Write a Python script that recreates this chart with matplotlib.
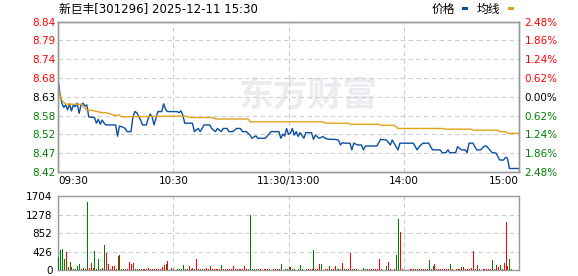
# gráfico intradiário (preço + volume) no estilo do quadro da eastmoney
import matplotlib
matplotlib.use("Agg")
import matplotlib.pyplot as plt
from matplotlib.patches import Rectangle

plt.rcParams['font.family'] = ['DejaVu Sans', 'Noto Sans CJK SC']

titulo = "新巨丰[301296] 2025-12-11 15:30"
fechamento_anterior = 8.63
faixa = 0.0248

# vértices da linha de preço (minuto, preço)
preco_min = [0, 1, 2, 3, 4, 5, 6, 7, 8, 9, 10, 11, 12, 13, 14, 15, 16, 19, 20, 21,
             22, 23, 24, 25, 30, 31, 32, 34, 35, 36, 38, 39, 40, 41, 43, 44, 46, 47, 48, 49,
             50, 51, 52, 54, 55, 56, 57, 62, 63, 64, 65, 66, 70, 71, 73, 74, 75, 76, 79, 80,
             82, 83, 85, 86, 88, 89, 91, 93, 95, 96, 98, 100, 101, 103, 104, 108, 109, 111, 115, 116,
             117, 118, 119, 120, 121, 122, 123, 124, 125, 126, 128, 129, 132, 133, 134, 136, 138, 139, 141, 144,
             146, 147, 148, 150, 152, 153, 154, 156, 158, 159, 160, 162, 166, 168, 171, 173, 174, 177, 178, 185,
             187, 188, 190, 193, 194, 195, 199, 200, 202, 203, 204, 207, 208, 210, 212, 213, 214, 216, 218, 220,
             222, 223, 226, 228, 230, 232, 233, 234, 235, 240]
preco_val = [8.680, 8.640, 8.612, 8.600, 8.607, 8.593, 8.610, 8.590, 8.607, 8.602, 8.612, 8.583, 8.607, 8.612, 8.604, 8.607, 8.573, 8.571, 8.555, 8.566,
             8.552, 8.564, 8.555, 8.550, 8.550, 8.518, 8.547, 8.543, 8.540, 8.531, 8.531, 8.573, 8.588, 8.585, 8.564, 8.550, 8.550, 8.569, 8.581, 8.573,
             8.550, 8.569, 8.588, 8.588, 8.610, 8.595, 8.588, 8.588, 8.585, 8.590, 8.578, 8.555, 8.555, 8.531, 8.540, 8.531, 8.540, 8.550, 8.550, 8.540,
             8.531, 8.540, 8.531, 8.540, 8.540, 8.531, 8.531, 8.540, 8.540, 8.531, 8.531, 8.521, 8.512, 8.519, 8.512, 8.512, 8.519, 8.531, 8.531, 8.512,
             8.524, 8.518, 8.540, 8.523, 8.526, 8.540, 8.521, 8.531, 8.517, 8.528, 8.512, 8.528, 8.528, 8.509, 8.521, 8.512, 8.517, 8.512, 8.509, 8.509,
             8.507, 8.493, 8.499, 8.498, 8.498, 8.479, 8.498, 8.493, 8.493, 8.479, 8.490, 8.490, 8.490, 8.509, 8.507, 8.493, 8.507, 8.479, 8.498, 8.498,
             8.479, 8.488, 8.498, 8.498, 8.488, 8.479, 8.479, 8.471, 8.471, 8.479, 8.471, 8.471, 8.488, 8.479, 8.479, 8.471, 8.498, 8.498, 8.479, 8.479,
             8.490, 8.490, 8.471, 8.470, 8.450, 8.450, 8.458, 8.455, 8.426, 8.426]

# vértices da linha de preço médio
media_min = [0, 1, 2, 4, 12, 15, 18, 23, 25, 29, 32, 33, 58, 66, 69, 81, 82, 99, 100, 138,
             139, 151, 152, 167, 168, 175, 177, 200, 201, 215, 216, 229, 230, 233, 234, 240]
media_val = [8.660, 8.635, 8.621, 8.609, 8.609, 8.593, 8.591, 8.585, 8.585, 8.578, 8.578, 8.573, 8.575, 8.575, 8.571, 8.571, 8.567, 8.567, 8.559, 8.559,
             8.555, 8.555, 8.552, 8.552, 8.549, 8.549, 8.540, 8.540, 8.538, 8.538, 8.535, 8.535, 8.531, 8.531, 8.526, 8.526]

# volume por minuto (manhã 0..120, tarde 121..240)
vol_manha = [300, 463, 486, 254, 424, 77, 185, 69, 31, 31,
             93, 139, 23, 46, 31, 1573, 46, 162, 46, 440,
             23, 254, 31, 46, 578, 393, 139, 23, 93, 93,
             31, 324, 347, 23, 23, 23, 20, 185, 139, 162,
             23, 23, 23, 23, 23, 23, 23, 46, 23, 23,
             23, 23, 23, 23, 60, 108, 139, 208, 0, 46,
             23, 0, 23, 23, 23, 116, 23, 23, 93, 23,
             46, 23, 254, 23, 23, 23, 23, 46, 23, 93,
             23, 23, 23, 23, 23, 116, 23, 23, 23, 23,
             23, 93, 23, 23, 23, 23, 23, 93, 23, 23,
             1272, 23, 23, 23, 23, 23, 0, 23, 23, 23,
             23, 0, 23, 23, 23, 23, 139, 0, 23, 23,
             69]
cor_manha = list("ggggrggrgg" "ggrgrgrrrg" "ggrrgrrrrr" "ggrgggrrrr" "ggrrgrrrrr"
                 "rrrrrrgrrr" "rrggggrgrr" "rgrrgrrrgr" "rrrrrgrrrr" "rrrrrrrrrg"
                 "ggggrrrrrr" "rrrrrrgggg" "g")
vol_tarde = [69, 23, 23, 0, 23, 108, 23, 0, 23, 23,
             23, 23, 463, 23, 23, 139, 139, 0, 23, 23,
             93, 23, 23, 93, 23, 23, 23, 162, 23, 23,
             23, 393, 23, 23, 23, 0, 0, 0, 46, 23,
             23, 23, 23, 23, 23, 23, 254, 23, 0, 0,
             93, 185, 23, 0, 23, 347, 1180, 879, 23, 0,
             0, 0, 23, 23, 23, 23, 23, 23, 23, 23,
             23, 23, 231, 23, 93, 139, 23, 23, 23, 23,
             23, 23, 23, 139, 23, 0, 23, 23, 23, 69,
             69, 23, 23, 23, 46, 440, 23, 116, 23, 0,
             23, 23, 23, 23, 23, 231, 23, 116, 69, 110,
             23, 165, 1110, 100, 258, 23, 0, 0, 0, 215]
cor_tarde = list("rggggggrgr" "rrgrrrgrrr" "grrrgggrrr" "rrrgrrrrgg" "grrrrrrrrr"
                 "grrrrggrrr" "rrrrrrrgrr" "rrgrgrrrrr" "rrrgrrrrrg" "rrrrrrgrgr"
                 "rrrrrgrrrg" "rrrrggrrrr")

horarios = ["09:30", "10:30", "11:30/13:00", "14:00", "15:00"]
precos_label = ["8.42", "8.47", "8.52", "8.58", "8.63", "8.68", "8.74", "8.79", "8.84"]
pct_label = ["2.48%", "1.86%", "1.24%", "0.62%", "0.00%", "0.62%", "1.24%", "1.86%", "2.48%"]
vol_label = ["0", "426", "852", "1278", "1704"]
vol_ticks = [0, 426, 852, 1278, 1704]

vermelho = "#ff0000"
verde = "#008000"
cinza_borda = "#999999"
cinza_grade = "#cccccc"

W, H = 578, 276
fig = plt.figure(figsize=(W / 100, H / 100), dpi=100)


def caixa(x0, y0, x1, y1):
    return [x0 / W, 1 - y1 / H, (x1 - x0) / W, (y1 - y0) / H]


ax = fig.add_axes(caixa(58, 21.7, 519, 172))
axv = fig.add_axes(caixa(58, 196.3, 519, 270))

# painel de preço
ax.plot(preco_min, preco_val, color="#0b4ea2", lw=1, zorder=3)
ax.plot(media_min, media_val, color="#e0a419", lw=1, zorder=3)
ax.set_xlim(0, 240)
ax.set_ylim(fechamento_anterior * (1 - faixa), fechamento_anterior * (1 + faixa))

ticks = [fechamento_anterior * (1 + k * faixa / 4) for k in range(-4, 5)]
ax.set_yticks(ticks, precos_label)
ax.set_xticks([0, 60, 120, 180, 240], horarios)
ax.tick_params(length=0, labelsize=7.5, pad=2)
ax.tick_params(axis="x", pad=3)
xl = ax.get_xticklabels()
xl[0].set_ha("left")
xl[-1].set_ha("right")
for i, t in enumerate(ax.get_yticklabels()):
    t.set_color(verde if i < 4 else ("black" if i == 4 else vermelho))
ax.grid(True, color=cinza_grade, ls=(0, (4, 3)), lw=0.8, zorder=1)

ax2 = ax.twinx()
ax2.set_ylim(ax.get_ylim())
ax2.set_yticks(ticks, pct_label)
ax2.tick_params(length=0, labelsize=7.5, pad=4)
for i, t in enumerate(ax2.get_yticklabels()):
    t.set_color(verde if i < 4 else ("black" if i == 4 else vermelho))

ax.text(0.544, 0.512, "东方财富", transform=ax.transAxes, fontsize=25, weight="bold",
        color="#ececf0", ha="center", va="center", zorder=0,
        family=["Noto Sans CJK SC", "DejaVu Sans"])

# painel de volume: uma linha de 1px por minuto
volumes = vol_manha + vol_tarde
cores = [vermelho if c == "r" else verde for c in cor_manha + cor_tarde]
axv.vlines(range(len(volumes)), 0, volumes, colors=cores, lw=0.6, zorder=3,
           antialiased=False)
axv.set_xlim(0, 240)
axv.set_ylim(0, 1704)
axv.set_yticks(vol_ticks, vol_label)
axv.set_xticks([0, 60, 120, 180, 240], [])
axv.tick_params(length=0, labelsize=7.5, pad=4)
axv.grid(True, color=cinza_grade, ls=(0, (4, 3)), lw=0.8, zorder=1)

for a in (ax, ax2, axv):
    for s in a.spines.values():
        s.set_color(cinza_borda)
        s.set_linewidth(1)

# título e legenda
fig.text(59 / W, 1 - 9 / H, titulo, fontsize=8.5, ha="left", va="center")
fig.text(432 / W, 1 - 9 / H, "价格", fontsize=8.5, ha="left", va="center")
fig.text(477 / W, 1 - 9 / H, "均线", fontsize=8.5, ha="left", va="center")
fig.add_artist(Rectangle((462 / W, 1 - 9.5 / H), 6 / W, 2.5 / H, transform=fig.transFigure,
                         color="#0b4ea2", lw=0))
fig.add_artist(Rectangle((508 / W, 1 - 9.5 / H), 6 / W, 2.5 / H, transform=fig.transFigure,
                         color="#e0a419", lw=0))

fig.savefig("out.png", dpi=100)
plt.close()
